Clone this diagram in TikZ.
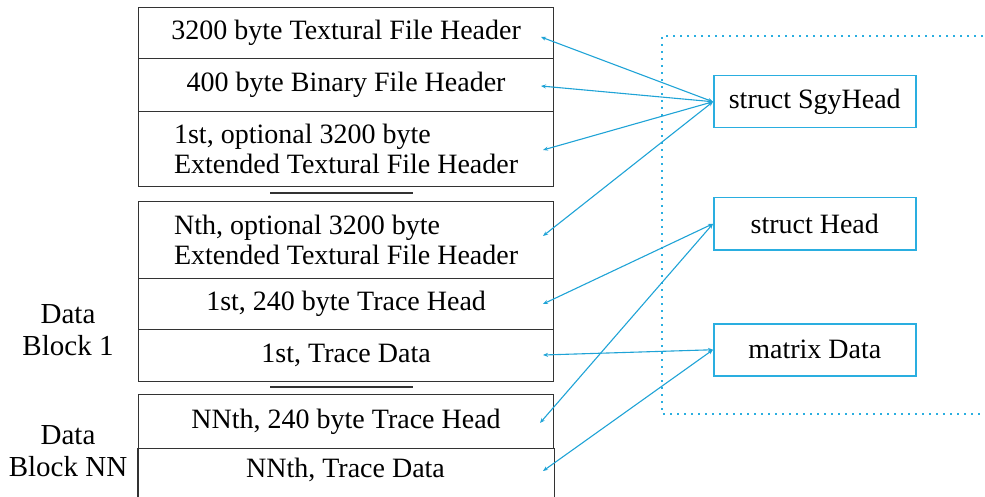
\documentclass[tikz,border=0pt]{standalone}
\usepackage{fontspec}
\setmainfont{Liberation Serif}
\usetikzlibrary{arrows.meta}
\definecolor{lnk}{HTML}{1FA3D6}
\definecolor{cybox}{HTML}{2AAEE0}
\definecolor{gr}{HTML}{333333}
\begin{document}
\begin{tikzpicture}[x=1pt,y=-1pt,
  row/.style={draw=gr,line width=1.2pt,minimum width=415pt,anchor=north west,inner sep=0pt,font=\fontsize{28}{30}\selectfont},
  sbx/.style={rectangle,draw=cybox,text=black,line width=1.5pt,minimum width=202pt,minimum height=52pt,anchor=north west,inner sep=0pt,font=\fontsize{28}{30}\selectfont},
  lbl/.style={align=center,font=\fontsize{29}{32}\selectfont},
  lnkarr/.style={lnk,line width=1.1pt,{Stealth[length=5pt,width=4pt]}-{Stealth[length=5pt,width=4pt]}},
  sep/.style={draw=gr,line width=1.2pt}]
\useasboundingbox (0,0) rectangle (985,497);
% left column
\node[row,minimum height=51pt] (h1) at (138,7) {3200 byte Textural File Header};
\node[row,minimum height=53pt] (h2) at (138,58) {400 byte Binary File Header};
\node[row,minimum height=75pt,align=left] (h3) at (138,111) {1st, optional 3200 byte\\Extended Textural File Header};
\draw[sep] (270,193) coordinate (s1a) -- (413,193) coordinate (s1b);
\node[row,minimum height=77pt,align=left] (h4) at (138,201) {Nth, optional 3200 byte\\Extended Textural File Header};
\node[row,minimum height=51pt] (t1) at (138,278) {1st, 240 byte Trace Head};
\node[row,minimum height=52pt] (d1) at (138,329) {1st, Trace Data};
\draw[sep] (270,387) coordinate (s2a) -- (413,387) coordinate (s2b);
\node[row,minimum height=54pt] (tn) at (138,394) {NNth, 240 byte Trace Head};
\node[row,draw=none,minimum height=60pt] (dn) at (138,448) {};
\node[font=\fontsize{28}{30}\selectfont] (dnt) at (345.5,470) {NNth, Trace Data};
\draw[sep] (dn.north west) -- (dn.south west);
\draw[sep] (dn.north east) -- (dn.south east);
% labels
\node[lbl] (b1) at (68,330) {Data\\Block 1};
\node[lbl] (bn) at (68,451) {Data\\Block NN};
% right side
\draw[cybox,line width=1.2pt,dash pattern=on 2pt off 5pt] (990,36) -- (662,36) -- (662,414) -- (990,414);
\node[sbx] (sgy) at (713,75) {struct SgyHead};
\node[sbx] (hd) at (713,197) {struct Head};
\node[sbx] (md) at (713,323) {matrix Data};
% endpoints
\coordinate (e1) at (541,37);
\coordinate (e2) at (541,86);
\coordinate (e3) at (543,150);
\coordinate (e4) at (543,236);
\coordinate (e5) at (543,304);
\coordinate (e6) at (540,423);
\coordinate (e7) at (543,355);
\coordinate (e8) at (543,471);
\draw[lnkarr] (e1) -- (sgy.west);
\draw[lnkarr] (e2) -- (sgy.west);
\draw[lnkarr] (e3) -- (sgy.west);
\draw[lnkarr] (e4) -- (sgy.west);
\draw[lnkarr] (e5) -- (hd.west);
\draw[lnkarr] (e6) -- (hd.west);
\draw[lnkarr] (e7) -- (md.west);
\draw[lnkarr] (e8) -- (md.west);
\end{tikzpicture}
\end{document}
